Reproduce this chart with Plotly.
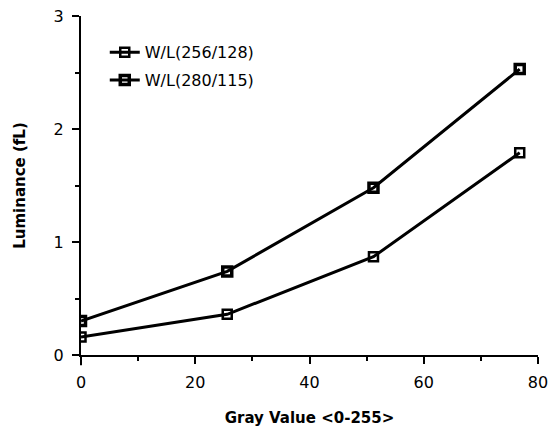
import plotly.graph_objects as go

gray_values = [0, 25.6, 51.2, 76.8]
lum_256_128 = [0.16, 0.36, 0.87, 1.79]
lum_280_115 = [0.30, 0.74, 1.48, 2.53]
series_names = ["W/L(256/128)", "W/L(280/115)"]
x_ticks = [0, 20, 40, 60, 80]
y_ticks = [0, 1, 2, 3]

fig = go.Figure()
fig.add_trace(go.Scatter(
    x=gray_values, y=lum_256_128, name=series_names[0], mode="lines+markers",
    legendgroup="a",
    line=dict(color="black", width=3),
    marker=dict(symbol="square-open", size=9, color="black", line=dict(width=2.5, color="black")),
))
fig.add_trace(go.Scatter(
    x=gray_values, y=lum_280_115, name=series_names[1], mode="lines+markers",
    legendgroup="b",
    line=dict(color="black", width=3),
    marker=dict(symbol="square-open", size=9, color="black", line=dict(width=3.5, color="black")),
))

tick_font = dict(family="DejaVu Sans", size=16, color="black")
title_font = dict(family="DejaVu Sans", size=15, color="black")
axis_common = dict(
    showline=True, linecolor="black", linewidth=2,
    ticks="outside", ticklen=7, tickwidth=2, tickcolor="black",
    showgrid=False, zeroline=False, automargin=False,
    tickfont=tick_font, ticklabelstandoff=5,
)
fig.update_xaxes(
    range=[0, 80], tickvals=x_ticks,
    title=dict(text="<b>Gray Value <0-255></b>", font=title_font, standoff=22),
    minor=dict(dtick=10, ticklen=4, tickwidth=2, tickcolor="black", ticks="outside"),
    **axis_common,
)
fig.update_yaxes(
    range=[0, 3], tickvals=y_ticks,
    title=dict(text="<b>Luminance (fL)</b>", font=title_font, standoff=24),
    minor=dict(dtick=0.5, ticklen=4, tickwidth=2, tickcolor="black", ticks="outside"),
    **axis_common,
)
# small overhang of the axis lines past the origin, as in the original
fig.add_shape(type="line", xref="paper", yref="paper", x0=-0.016, x1=0, y0=0, y1=0,
              line=dict(color="black", width=2))
fig.add_shape(type="line", xref="paper", yref="paper", x0=0, x1=0, y0=-0.03, y1=0,
              line=dict(color="black", width=2))
fig.update_layout(
    width=551, height=427,
    margin=dict(l=81, r=13, t=16, b=72),
    paper_bgcolor="white", plot_bgcolor="white",
    showlegend=True,
    legend=dict(x=0.052, y=0.943, xanchor="left", yanchor="top",
                font=dict(family="DejaVu Sans", size=16, color="black"),
                bgcolor="rgba(0,0,0,0)", tracegroupgap=4),
)
fig.write_html("out.html")
